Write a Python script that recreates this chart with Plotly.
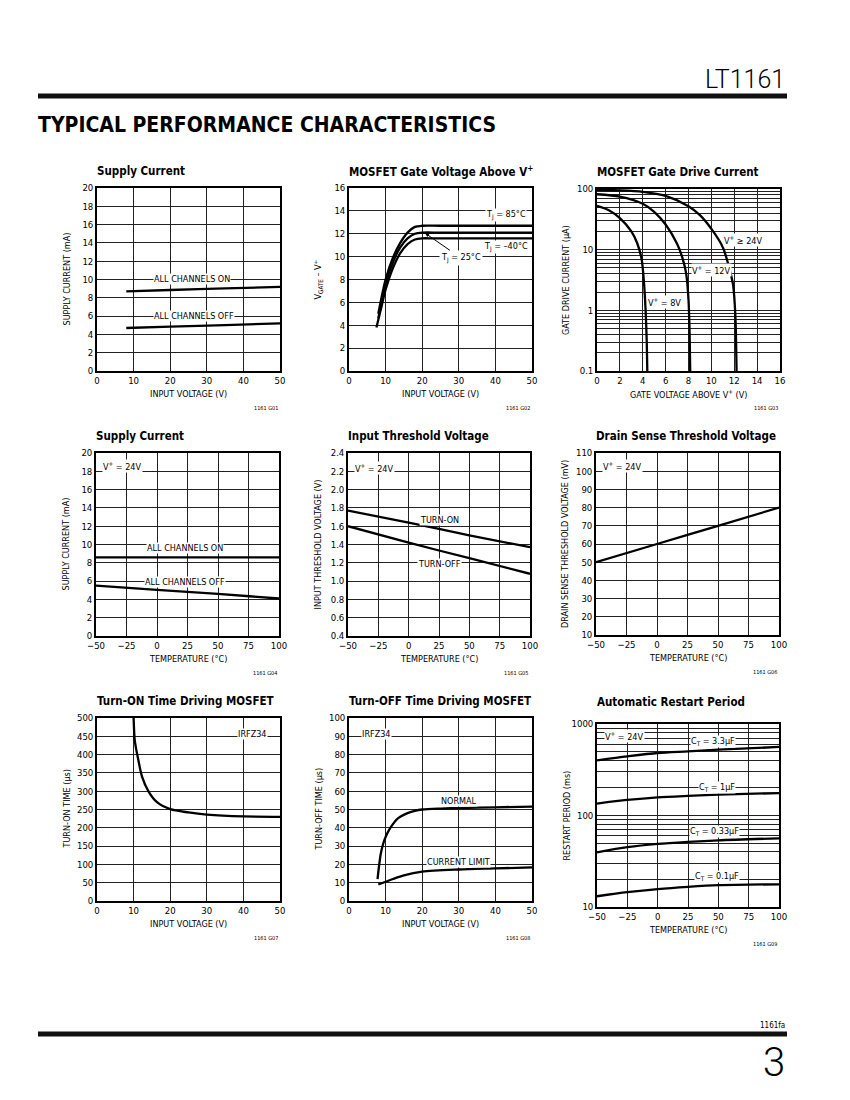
import math
import plotly.graph_objects as go

W, H = 850, 1100
PAGE_OFF = 8  # default body margin of the html page
NARROW = "Liberation Sans Narrow, Arial Narrow, DejaVu Sans Condensed, sans-serif"

# G01 supply current vs input voltage
g01_vin = [8, 20, 35, 50]
g01_on = [8.7, 8.85, 9.02, 9.2]
g01_off = [4.7, 4.85, 5.02, 5.2]

# G02 MOSFET gate voltage above V+ vs input voltage
g02_vin_85 = [8, 9, 10, 12, 14, 16, 18, 20, 25, 50]
g02_85 = [5.0, 6.6, 8.0, 9.9, 11.2, 12.1, 12.6, 12.7, 12.7, 12.7]
g02_vin_25 = [8, 9, 10, 12, 14, 16, 18, 20, 25, 50]
g02_25 = [4.6, 6.2, 7.6, 9.5, 10.8, 11.6, 12.0, 12.1, 12.1, 12.1]
g02_vin_m40 = [7.5, 9, 10, 12, 14, 16, 18, 20, 23, 50]
g02_m40 = [3.8, 5.8, 7.1, 9.0, 10.3, 11.1, 11.5, 11.6, 11.6, 11.6]

# G03 gate drive current vs gate voltage above V+
g03_v_8 = [0, 1, 2, 3, 3.5, 3.9, 4.1, 4.25, 4.35, 4.4]
g03_i_8 = [53, 45, 33, 20, 13, 7, 3, 1, 0.3, 0.1]
g03_v_12 = [0, 2, 4, 5, 6, 7, 7.5, 7.8, 8.0, 8.1, 8.15]
g03_i_12 = [82, 75, 57, 42, 26, 12.5, 7, 4, 1.5, 0.4, 0.1]
g03_v_24 = [0, 2, 4, 6, 8, 9, 10, 11, 11.5, 11.9, 12.1, 12.2]
g03_i_24 = [97, 95, 90, 77, 52, 37, 22, 11, 5.5, 2.6, 0.8, 0.1]

# G04 supply current vs temperature
g04_t = [-50, 0, 50, 100]
g04_on = [8.6, 8.6, 8.6, 8.6]
g04_off = [5.5, 5.05, 4.6, 4.1]

# G05 input threshold voltage vs temperature
g05_t = [-50, 0, 50, 100]
g05_on = [1.77, 1.64, 1.50, 1.37]
g05_off = [1.60, 1.42, 1.25, 1.08]

# G06 drain sense threshold vs temperature
g06_t = [-50, 0, 50, 100]
g06_v = [50, 60, 70, 80]

# G07 turn-on time vs input voltage
g07_vin = [10, 10.3, 10.7, 11.1, 12.3, 14.1, 16.4, 20, 25, 30, 40, 50]
g07_t = [500, 440, 415, 395, 340, 299, 270, 251, 242, 236, 231, 230]

# G08 turn-off time vs input voltage
g08_vin_n = [7.8, 8.2, 8.7, 9.3, 10, 11, 12, 13, 14, 16, 18, 20, 25, 30, 40, 50]
g08_normal = [12, 19, 26, 31, 35, 39, 42, 44.5, 46, 48, 49.3, 50, 50.5, 50.8, 51.2, 51.6]
g08_vin_c = [8, 10, 12, 15, 20, 30, 40, 50]
g08_climit = [9, 10.5, 12, 14, 16, 17.2, 17.8, 18.4]

# G09 restart period vs temperature
g09_t = [-50, -25, 0, 25, 50, 100]
g09_3u3 = [401, 443, 482, 502, 524, 561]
g09_1u = [135, 148, 158, 164, 169, 176]
g09_330n = [39.6, 45, 48.9, 51.5, 53.6, 56.3]
g09_100n = [13.1, 14.5, 15.7, 16.6, 17.3, 17.7]

# log tick labels (gridline at every 1..9 step, label only on decades)
g03_mant = [m for e in (-1, 0, 1) for m in range(1, 10)] + [1]
log_g03_vals = [m * 10 ** e for e in (-1, 0, 1) for m in range(1, 10)] + [100]
log_g03_text = [("0.1" if v < 0.5 else str(int(round(v)))) if m == 1 else ""
                for v, m in zip(log_g03_vals, g03_mant)]
g09_mant = [m for e in (1, 2) for m in range(1, 10)] + [1]
log_g09_vals = [m * 10 ** e for e in (1, 2) for m in range(1, 10)] + [1000]
log_g09_text = [str(int(round(v))) if m == 1 else "" for v, m in zip(log_g09_vals, g09_mant)]


def px(x):
    return (x - PAGE_OFF) / W


def py(y):
    return 1 - (y - PAGE_OFF) / H


fig = go.Figure()
annotations = []
layout = {}

LINE = dict(color="black", width=2.3)
LABEL_FONT = dict(family=NARROW, size=9, color="black")


def panel(n, box, title, xtitle, ytitle, xrange, xdtick, yrange, ydtick=None,
          ylog=False, tickvals=None, ticktext=None, tag="", title_gap=17, yfmt=None):
    x0, y0, x1, y1 = box
    sfx = "" if n == 1 else str(n)
    axis_common = dict(
        showline=True, mirror=True, linecolor="black", linewidth=1.6,
        showgrid=True, gridcolor="#222", gridwidth=1, zeroline=False,
        ticks="", tickfont=dict(family=NARROW, size=9.5, color="black"),
        fixedrange=True, automargin=False,
    )
    layout["xaxis" + sfx] = dict(axis_common, domain=[px(x0), px(x1)], range=xrange,
                                 dtick=xdtick, tick0=xrange[0], anchor="y" + sfx)
    ya = dict(axis_common, domain=[py(y1), py(y0)], anchor="x" + sfx)
    if ylog:
        ya.update(type="log", range=[math.log10(yrange[0]), math.log10(yrange[1])],
                  tickmode="array", tickvals=tickvals, ticktext=ticktext)
    else:
        ya.update(range=yrange, dtick=ydtick, tick0=yrange[0])
    if yfmt:
        ya.update(tickformat=yfmt)
    layout["yaxis" + sfx] = ya
    annotations.append(dict(xref="paper", yref="paper", x=px(x0 - 2), y=py(y0 - title_gap),
                            xanchor="left", yanchor="middle", showarrow=False,
                            text="<b>" + title + "</b>",
                            font=dict(family=NARROW, size=11.5, color="black")))
    annotations.append(dict(xref="paper", yref="paper", x=px((x0 + x1) / 2), y=py(y1 + 23),
                            xanchor="center", yanchor="middle", showarrow=False,
                            text=xtitle, font=dict(family=NARROW, size=9, color="black")))
    annotations.append(dict(xref="paper", yref="paper", x=px(x0 - 31), y=py((y0 + y1) / 2),
                            xanchor="center", yanchor="middle", showarrow=False, textangle=-90,
                            text=ytitle, font=dict(family=NARROW, size=9, color="black")))
    annotations.append(dict(xref="paper", yref="paper", x=px(x1), y=py(y1 + 37),
                            xanchor="right", yanchor="middle", showarrow=False,
                            text=tag, font=dict(family=NARROW, size=5.5, color="black")))


def curve(n, x, y):
    sfx = "" if n == 1 else str(n)
    fig.add_trace(go.Scatter(x=x, y=y, mode="lines", line=dict(LINE, shape="spline", smoothing=0.8),
                             xaxis="x" + sfx, yaxis="y" + sfx, showlegend=False, hoverinfo="skip"))


def label(n, x, y, text):
    sfx = "" if n == 1 else str(n)
    annotations.append(dict(xref="x" + sfx, yref="y" + sfx, x=x, y=y, text=text,
                            showarrow=False, font=LABEL_FONT, bgcolor="white", borderpad=0))


# row 1
panel(1, (97, 188, 280, 371), "Supply Current", "INPUT VOLTAGE (V)", "SUPPLY CURRENT (mA)",
      [0, 50], 10, [0, 20], 2, tag="1161 G01")
panel(2, (349, 188, 532, 371), "MOSFET Gate Voltage Above V<sup>+</sup>", "INPUT VOLTAGE (V)",
      "V<sub>GATE</sub> – V<sup>+</sup>", [0, 50], 10, [0, 16], 2, tag="1161 G02")
panel(3, (597, 189, 780, 371), "MOSFET Gate Drive Current", "GATE VOLTAGE ABOVE V<sup>+</sup> (V)",
      "GATE DRIVE CURRENT (µA)", [0, 16], 2, [0.1, 100], ylog=True,
      tickvals=log_g03_vals, ticktext=log_g03_text, tag="1161 G03")
# row 2
panel(4, (96, 453, 279, 636), "Supply Current", "TEMPERATURE (°C)", "SUPPLY CURRENT (mA)",
      [-50, 100], 25, [0, 20], 2, tag="1161 G04")
panel(5, (348, 453, 530, 636), "Input Threshold Voltage", "TEMPERATURE (°C)",
      "INPUT THRESHOLD VOLTAGE (V)", [-50, 100], 25, [0.4, 2.4], 0.2, tag="1161 G05", yfmt=".1f")
panel(6, (596, 453, 779, 635), "Drain Sense Threshold Voltage", "TEMPERATURE (°C)",
      "DRAIN SENSE THRESHOLD VOLTAGE (mV)", [-50, 100], 25, [10, 110], 10, tag="1161 G06")
# row 3
panel(7, (97, 718, 280, 901), "Turn-ON Time Driving MOSFET", "INPUT VOLTAGE (V)",
      "TURN-ON TIME (µs)", [0, 50], 10, [0, 500], 50, tag="1161 G07")
panel(8, (349, 718, 532, 901), "Turn-OFF Time Driving MOSFET", "INPUT VOLTAGE (V)",
      "TURN-OFF TIME (µs)", [0, 50], 10, [0, 100], 10, tag="1161 G08")
panel(9, (597, 724, 779, 907), "Automatic Restart Period", "TEMPERATURE (°C)",
      "RESTART PERIOD (ms)", [-50, 100], 25, [10, 1000], ylog=True,
      tickvals=log_g09_vals, ticktext=log_g09_text, tag="1161 G09", title_gap=22)

# curves and labels
curve(1, g01_vin, g01_on)
curve(1, g01_vin, g01_off)
label(1, 26, 10.1, "ALL CHANNELS ON")
label(1, 26.5, 6.05, "ALL CHANNELS OFF")

curve(2, g02_vin_85, g02_85)
curve(2, g02_vin_25, g02_25)
curve(2, g02_vin_m40, g02_m40)
label(2, 43, 13.6, "T<sub>J</sub> = 85°C")
label(2, 43, 10.85, "T<sub>J</sub> = –40°C")
annotations.append(dict(xref="x2", yref="y2", x=20.8, y=12.05, axref="x2", ayref="y2",
                        ax=30.5, ay=9.9, text="T<sub>J</sub> = 25°C", showarrow=True,
                        arrowhead=2, arrowsize=0.8, arrowwidth=1, arrowcolor="black",
                        font=LABEL_FONT, bgcolor="white"))

curve(3, g03_v_8, g03_i_8)
curve(3, g03_v_12, g03_i_12)
curve(3, g03_v_24, g03_i_24)
label(3, 12.8, math.log10(14.5), "V<sup>+</sup> ≥ 24V")
label(3, 10.0, math.log10(4.6), "V<sup>+</sup> = 12V")
label(3, 5.9, math.log10(1.35), "V<sup>+</sup> = 8V")

curve(4, g04_t, g04_on)
curve(4, g04_t, g04_off)
label(4, 23, 9.6, "ALL CHANNELS ON")
label(4, 23, 5.85, "ALL CHANNELS OFF")
label(4, -28, 18.6, "V<sup>+</sup> = 24V")

curve(5, g05_t, g05_on)
curve(5, g05_t, g05_off)
label(5, 25, 1.67, "TURN-ON")
label(5, 25, 1.19, "TURN-OFF")
label(5, -28, 2.24, "V<sup>+</sup> = 24V")

curve(6, g06_t, g06_v)
label(6, -28, 103, "V<sup>+</sup> = 24V")

curve(7, g07_vin, g07_t)
label(7, 42.5, 456, "IRFZ34")

curve(8, g08_vin_n, g08_normal)
curve(8, g08_vin_c, g08_climit)
label(8, 30, 54.7, "NORMAL")
label(8, 30, 21.4, "CURRENT LIMIT")
label(8, 7.5, 91.2, "IRFZ34")

curve(9, g09_t, g09_3u3)
curve(9, g09_t, g09_1u)
curve(9, g09_t, g09_330n)
curve(9, g09_t, g09_100n)
label(9, -27.5, math.log10(733), "V<sup>+</sup> = 24V")
label(9, 45.8, math.log10(646), "C<sub>T</sub> = 3.3µF")
label(9, 48.5, math.log10(200), "C<sub>T</sub> = 1µF")
label(9, 47, math.log10(67), "C<sub>T</sub> = 0.33µF")
label(9, 48.5, math.log10(21.3), "C<sub>T</sub> = 0.1µF")

# page header / footer
annotations.append(dict(xref="paper", yref="paper", x=px(787), y=py(79), xanchor="right",
                        yanchor="middle", showarrow=False, text="LT1161",
                        font=dict(family="Roboto, Liberation Sans", size=25, color="black", weight=300)))
annotations.append(dict(xref="paper", yref="paper", x=px(36), y=py(125), xanchor="left",
                        yanchor="middle", showarrow=False,
                        text="<b>TYPICAL PERFORMANCE CHARACTERISTICS</b>",
                        font=dict(family="DejaVu Sans Condensed, DejaVu Sans", size=21, color="black")))
annotations.append(dict(xref="paper", yref="paper", x=px(787), y=py(1025), xanchor="right",
                        yanchor="middle", showarrow=False, text="1161fa",
                        font=dict(family=NARROW, size=8, color="black")))
annotations.append(dict(xref="paper", yref="paper", x=px(787), y=py(1062), xanchor="right",
                        yanchor="middle", showarrow=False, text="3",
                        font=dict(family="Roboto, Liberation Sans", size=40, color="black", weight=300)))

shapes = [
    dict(type="line", xref="paper", yref="paper", x0=px(38), x1=px(787), y0=py(96), y1=py(96),
         line=dict(color="#111", width=5)),
    dict(type="line", xref="paper", yref="paper", x0=px(38), x1=px(787), y0=py(1034), y1=py(1034),
         line=dict(color="#111", width=5)),
]

fig.update_layout(**layout)
fig.update_layout(
    width=W, height=H, margin=dict(l=0, r=0, t=0, b=0, pad=0), autosize=False,
    paper_bgcolor="white", plot_bgcolor="white",
    annotations=annotations, shapes=shapes,
    font=dict(family=NARROW, color="black"),
)

fig.write_html("out.html")
